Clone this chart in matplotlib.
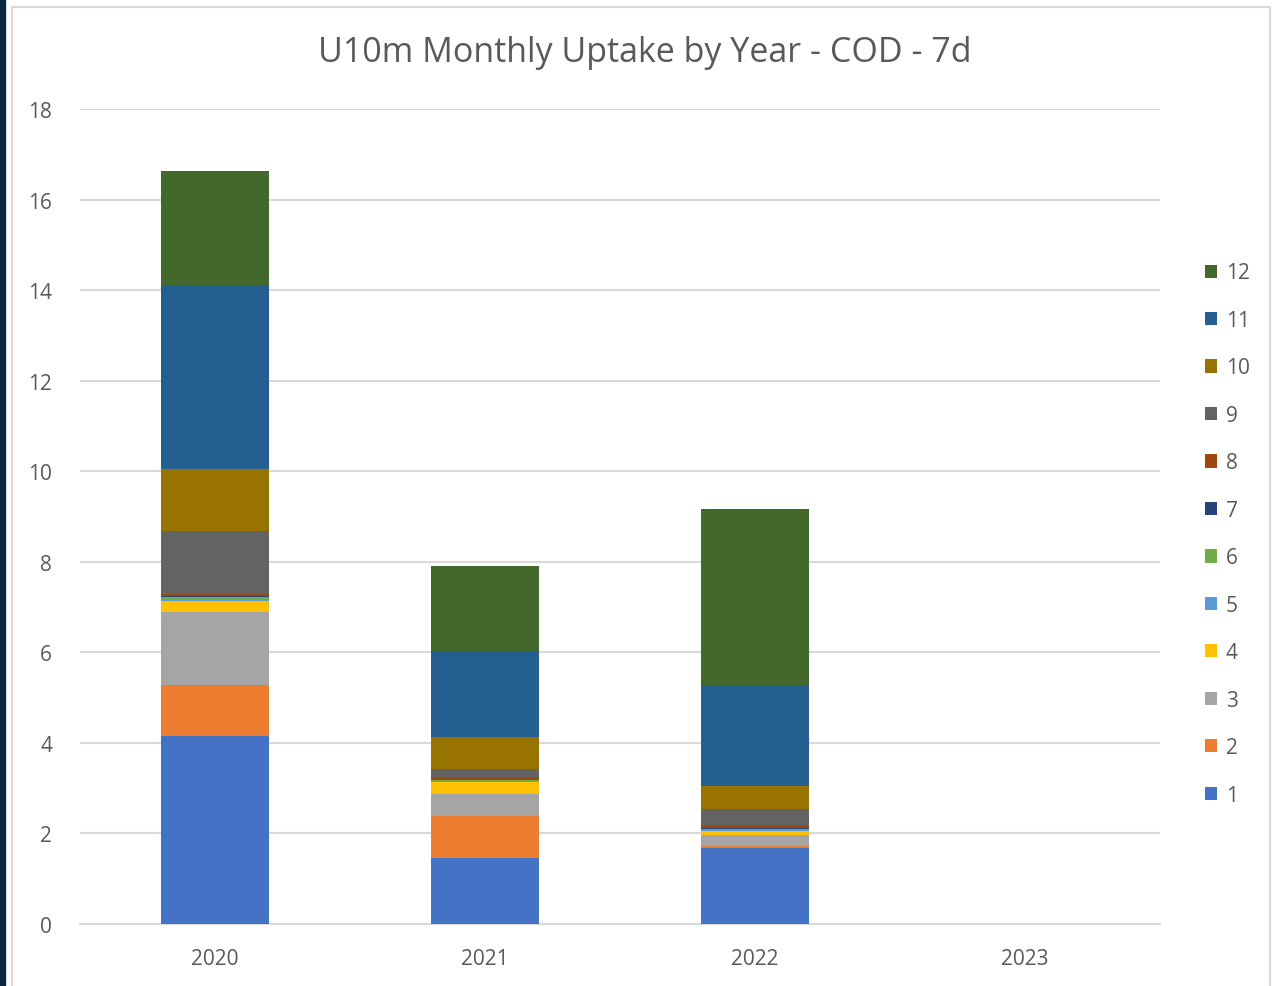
import numpy as np
import matplotlib.pyplot as plt
from matplotlib.patches import Rectangle

# data
years = ['2020', '2021', '2022', '2023']
months = ['1', '2', '3', '4', '5', '6', '7', '8', '9', '10', '11', '12']
m1 = [4.15, 1.46, 1.67, 0]
m2 = [1.13, 0.93, 0.05, 0]
m3 = [1.61, 0.49, 0.25, 0]
m4 = [0.24, 0.25, 0.08, 0]
m5 = [0.04, 0.03, 0.02, 0]
m6 = [0.05, 0.01, 0.03, 0]
m7 = [0.02, 0.01, 0.01, 0]
m8 = [0.05, 0.06, 0.07, 0]
m9 = [1.38, 0.19, 0.36, 0]
m10 = [1.39, 0.71, 0.51, 0]
m11 = [4.06, 1.88, 2.23, 0]
m12 = [2.52, 1.88, 3.89, 0]
series = [m1, m2, m3, m4, m5, m6, m7, m8, m9, m10, m11, m12]

colors = ['#4472C4', '#ED7D31', '#A5A5A5', '#FFC000', '#5B9BD5', '#70AD47',
          '#264478', '#9E480E', '#636363', '#997300', '#255E91', '#43682B']

plt.rcParams['font.family'] = ['Open Sans', 'DejaVu Sans']

fig = plt.figure(figsize=(12.76, 9.87), dpi=100)
# chart frame + dark left strip
fig.patches.append(Rectangle((12 / 1276, -0.01), 1258 / 1276, 1 - 8 / 987 + 0.01,
                             transform=fig.transFigure, fill=False,
                             edgecolor='#D9D9D9', linewidth=1.5))
fig.patches.append(Rectangle((0, 0), 5 / 1276, 1, transform=fig.transFigure,
                             color='#0B2545'))

ax = fig.add_axes([80 / 1276, 1 - 925 / 987, 1080 / 1276, 815 / 987])
x = np.arange(len(years))
bottom = np.zeros(len(years))
bars = []
for vals, c, lab in zip(series, colors, months):
    b = ax.bar(x, vals, 0.4, bottom=bottom, color=c, label=lab, zorder=3)
    bars.append(b)
    bottom += np.array(vals)

ax.set_xlim(-0.5, 3.5)
ax.set_ylim(0, 18)
ax.set_yticks(range(0, 19, 2))
ax.set_xticks(x)
ax.set_xticklabels(years)
ax.grid(axis='y', color='#D9D9D9', linewidth=1.5, zorder=0)
for s in ['top', 'right', 'left']:
    ax.spines[s].set_visible(False)
ax.spines['bottom'].set_color('#D9D9D9')
ax.spines['bottom'].set_linewidth(1.5)
ax.tick_params(length=0, labelsize=15, colors='#595959', pad=20)
ax.tick_params(axis='x', pad=17)

fig.text(645 / 1276, 1 - 53 / 987, 'U10m Monthly Uptake by Year - COD - 7d',
         ha='center', va='center', fontsize=24.5, color='#595959')

fig.legend(bars[::-1], months[::-1], loc='center left',
           bbox_to_anchor=(1186 / 1276, 1 - 535 / 987), frameon=False,
           fontsize=15, labelcolor='#595959', handlelength=0.6,
           handleheight=0.6, handletextpad=0.4, labelspacing=1.27)

fig.savefig('out.png', dpi=100)
